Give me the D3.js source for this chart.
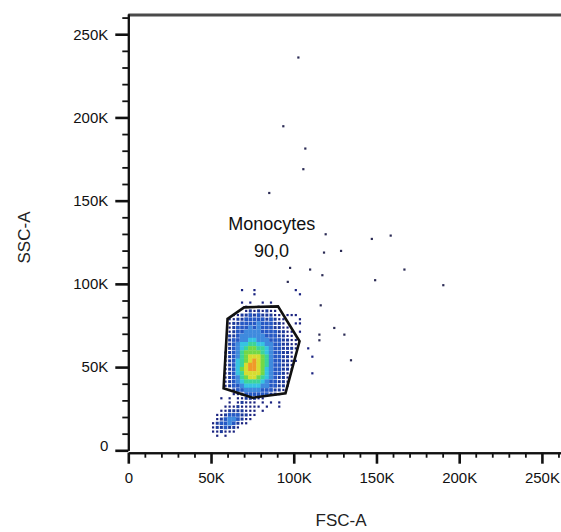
<!DOCTYPE html>
<html>
<head>
<meta charset="utf-8">
<script src="https://cdn.jsdelivr.net/npm/d3@7"></script>
<style>
  html, body { margin: 0; padding: 0; background: #fff; }
  svg { display: block; font-family: Arial, "Liberation Sans", sans-serif; }
</style>
</head>
<body>
<div id="root"></div>
<script>
const width = 561;
const height = 532;

// Axis ticks (values in thousands)

const tickValues = [0, 50, 100, 150, 200, 250];
const tickLabels = ['0', '50K', '100K', '150K', '200K', '250K'];
const minorTicks = [10, 20, 30, 40, 60, 70, 80, 90, 110, 120, 130, 140,
  160, 170, 180, 190, 210, 220, 230, 240, 260];

// Monocytes gate (FSC-A, SSC-A in K)

const gateFsc = [60.0, 70.0, 90.5, 103.5, 95.0, 75.1, 57.6];
const gateSsc = [79.0, 85.9, 86.5, 65.5, 34.3, 31.6, 37.3];
const gateName = 'Monocytes';
const gatePercent = '90,0';

// Single scattered events outside the dense region (K)

const eventFsc = [102.8, 93.7, 107.0, 105.8, 85.2, 119.3, 147.2, 158.6, 118.3,
  128.6, 97.8, 109.9, 117.3, 166.9, 149.2, 190.4, 96.4, 116.3, 115.5, 115.5,
  124.5, 130.6, 134.6];
const eventSsc = [236.0, 194.7, 181.3, 168.9, 154.6, 129.8, 127.0, 129.0, 118.8,
  119.8, 109.6, 108.6, 105.2, 108.6, 102.2, 99.2, 101.2, 87.1, 69.5, 66.1,
  73.5, 69.5, 54.1];

// Density of events, 2.5K x 2.5K cells, FSC from 47.5K, SSC from 100K down
// (0 = empty ... 9 = highest density)

const gridFscStart = 47.5;
const gridSscTop = 100;
const gridStep = 2.5;
const densityRows = [
  '00000000000000000000000000',
  '00000000100100000000010000',
  '00000000000100000000001000',
  '00000000000000000000000000',
  '00000000101001010000000000',
  '00000000010010010000000000',
  '00000000012121211000000000',
  '00000011223232221101110000',
  '00000112233333232110001000',
  '00000122333343332210011000',
  '00000123334343332211000000',
  '00000123344443333221101000',
  '00000223444444333221100000',
  '00000233445544433322110000',
  '00000234556655443322110000',
  '00000234567766543322210010',
  '00001234677776543322100000',
  '00001234678887643322100001',
  '00001235678987643322110000',
  '00001235689987643322100000',
  '00001235789987543322100000',
  '00001235688887543321000001',
  '00001234678876543221000000',
  '00001234566665433221000000',
  '00001233455554433221000000',
  '00000123344443332210000000',
  '00000011233333322100000000',
  '00010101122211000000000000',
  '00000101211101010100000000',
  '00001112111110100100000000',
  '00011222211101000000000000',
  '00112333221100000000000000',
  '00123443211000000000000000',
  '01233432110000000000000000',
  '01223221000000000000000000',
  '01121110000000000000000000',
  '00101000000000000000000000',
  '00000000000000000000000000',
];

// Pseudocolor scheme

const levelColors = ['#ffffff', '#1a2380', '#1c3a9c', '#2558c4', '#3f8ade',
  '#36c4e2', '#3cd49a', '#72d846', '#d6dc30', '#f09a28'];

// Main canvas

const svg = d3
  .select('#root')
  .append('svg')
  .attr('width', width)
  .attr('height', height);

const x = d3.scaleLinear().domain([0, 262.144]).range([128.3, 562]);
const y = d3.scaleLinear().domain([0, 262.144]).range([450.3, 14]);

// Density cells

const cells = [];
densityRows.forEach((row, r) => {
  row.split('').forEach((ch, c) => {
    const level = +ch;
    if (level > 0) {
      cells.push({
        fsc: gridFscStart + (c + 0.5) * gridStep,
        ssc: gridSscTop - (r + 0.5) * gridStep,
        level,
      });
    }
  });
});

const cellW = x(gridStep) - x(0);
const cellH = y(0) - y(gridStep);
const dotSize = (level) => (level >= 4 ? null : [0, 2.2, 3, 3.7][level]);

svg
  .append('g')
  .selectAll('rect')
  .data(cells)
  .join('rect')
  .attr('x', (d) => x(d.fsc) - (dotSize(d.level) || cellW + 0.3) / 2)
  .attr('y', (d) => y(d.ssc) - (dotSize(d.level) || cellH + 0.3) / 2)
  .attr('width', (d) => dotSize(d.level) || cellW + 0.3)
  .attr('height', (d) => dotSize(d.level) || cellH + 0.3)
  .attr('fill', (d) => levelColors[d.level]);

// Scattered events

svg
  .append('g')
  .selectAll('rect')
  .data(eventFsc.map((f, i) => [f, eventSsc[i]]))
  .join('rect')
  .attr('x', (d) => x(d[0]) - 1.1)
  .attr('y', (d) => y(d[1]) - 1.1)
  .attr('width', 2.2)
  .attr('height', 2.2)
  .attr('fill', '#2b2b55');

// Gate

svg
  .append('polygon')
  .attr('points', gateFsc.map((f, i) => `${x(f)},${y(gateSsc[i])}`).join(' '))
  .attr('fill', 'none')
  .attr('stroke', '#111')
  .attr('stroke-width', 2.6)
  .attr('stroke-linejoin', 'miter');

svg
  .append('text')
  .attr('x', 271.7)
  .attr('y', 230)
  .attr('text-anchor', 'middle')
  .attr('font-size', 18)
  .attr('fill', '#111')
  .text(gateName);

svg
  .append('text')
  .attr('x', 271.5)
  .attr('y', 256.7)
  .attr('text-anchor', 'middle')
  .attr('font-size', 18)
  .attr('fill', '#111')
  .text(gatePercent);

// Frame top

svg
  .append('line')
  .attr('x1', x(0))
  .attr('x2', width)
  .attr('y1', 15)
  .attr('y2', 15)
  .attr('stroke', '#4a4a4a')
  .attr('stroke-width', 3);

// Axes

const xAxisY = y(0) + 2.4;

function styleAxis(g, labels) {
  g.selectAll('.domain').attr('stroke', '#111').attr('stroke-width', 2);
  g.selectAll('.tick line').attr('stroke', '#111').attr('stroke-width', labels ? 2.6 : 1.8);
  g.selectAll('.tick text')
    .attr('font-size', 15)
    .attr('font-family', 'Arial, "Liberation Sans", sans-serif')
    .attr('fill', '#111');
}

svg
  .append('g')
  .attr('transform', `translate(${x(0)},0)`)
  .call(d3.axisLeft(y).tickValues(minorTicks).tickSize(6).tickSizeOuter(0).tickFormat(''))
  .call((g) => styleAxis(g, false));

const yAxis = svg
  .append('g')
  .attr('transform', `translate(${x(0)},0)`)
  .call(
    d3.axisLeft(y)
      .tickValues(tickValues)
      .tickFormat((d, i) => tickLabels[i])
      .tickSize(13)
      .tickSizeOuter(0)
      .tickPadding(7)
  )
  .call((g) => styleAxis(g, true));

yAxis.selectAll('.tick text').filter((d) => d === 0).attr('y', -5);

svg
  .append('g')
  .attr('transform', `translate(0,${xAxisY})`)
  .call(d3.axisBottom(x).tickValues(minorTicks).tickSize(5).tickSizeOuter(0).tickFormat(''))
  .call((g) => styleAxis(g, false));

svg
  .append('g')
  .attr('transform', `translate(0,${xAxisY})`)
  .call(
    d3.axisBottom(x)
      .tickValues(tickValues)
      .tickFormat((d, i) => tickLabels[i])
      .tickSize(11)
      .tickSizeOuter(0)
      .tickPadding(9)
  )
  .call((g) => styleAxis(g, true));

// Axis titles

svg
  .append('text')
  .attr('x', 341)
  .attr('y', 526)
  .attr('text-anchor', 'middle')
  .attr('font-size', 17)
  .attr('fill', '#222')
  .text('FSC-A');

svg
  .append('text')
  .attr('transform', 'translate(30,237.5) rotate(-90)')
  .attr('text-anchor', 'middle')
  .attr('font-size', 17)
  .attr('fill', '#222')
  .text('SSC-A');
</script>
</body>
</html>
